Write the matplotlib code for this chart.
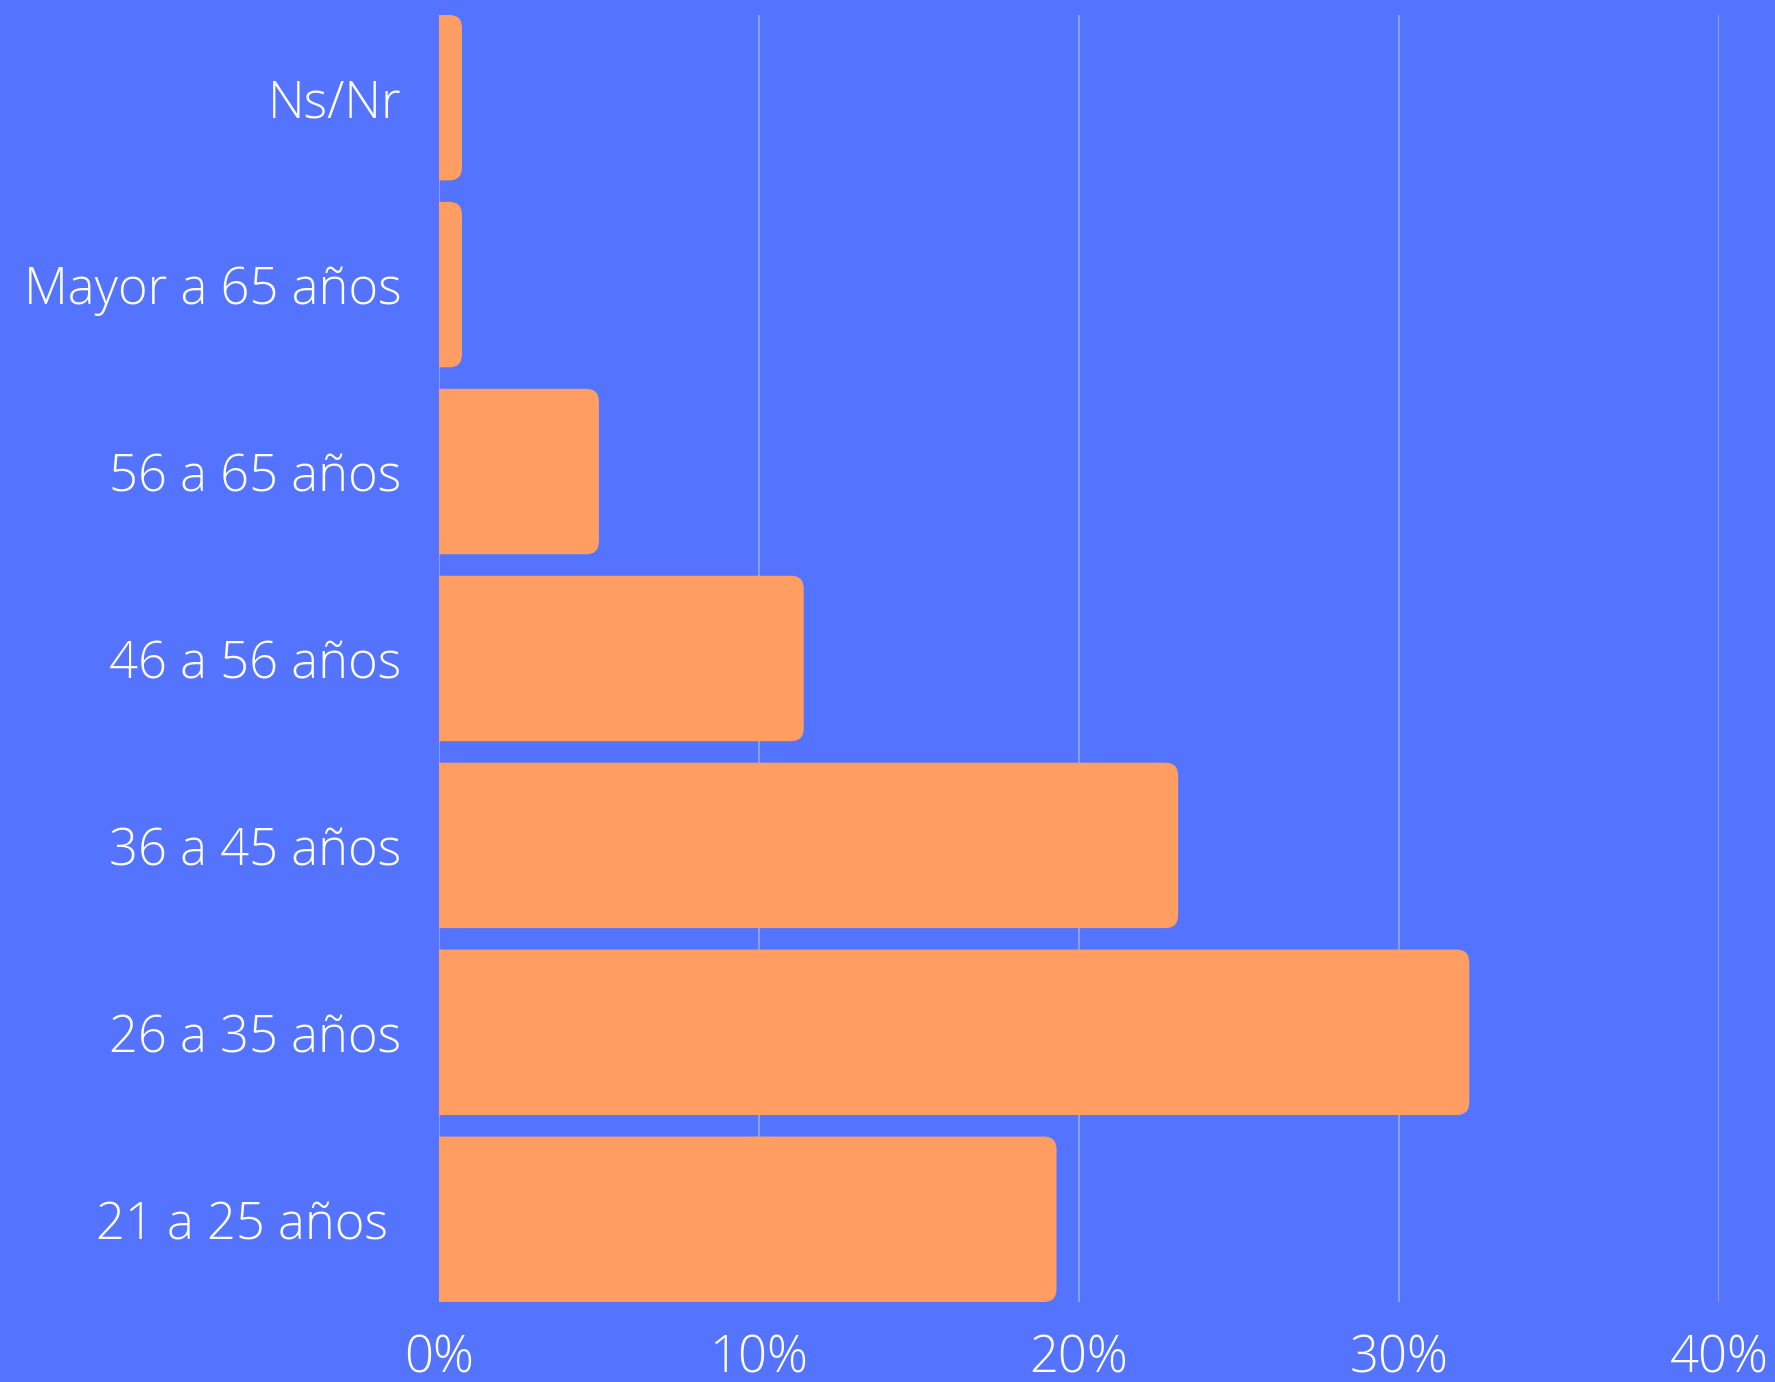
import numpy as np
import matplotlib.pyplot as plt
import matplotlib.patheffects as pe
from matplotlib import font_manager
from matplotlib.patches import FancyBboxPatch

# -------- data --------
groups = ["21 a 25 años ", "26 a 35 años", "36 a 45 años", "46 a 56 años",
          "56 a 65 años", "Mayor a 65 años", "Ns/Nr"]
share = [19.3, 32.2, 23.1, 11.4, 5.0, 0.72, 0.72]
x_ticks = [0, 10, 20, 30, 40]
x_tick_labels = ["0%", "10%", "20%", "30%", "40%"]

bg = "#5474FF"
bar_col = "#FF9D62"
grid_col = "#8CA0FF"

plt.rcParams['font.family'] = ['Open Sans', 'DejaVu Sans']

# lightest normal-width Open Sans face that is installed
info = []
for f in font_manager.fontManager.ttflist:
    if f.name != "Open Sans" or f.style != "normal" or f.stretch != "normal":
        continue
    if "ondensed" in f.fname:
        continue
    w = f.weight if isinstance(f.weight, int) else font_manager.weight_dict.get(f.weight, 400)
    info.append((w, f.fname))
info.sort()
light_found = bool(info) and info[0][0] < 400
if light_found:
    label_font = font_manager.FontProperties(fname=info[0][1], size=36.5)
else:
    label_font = font_manager.FontProperties(family="Open Sans", size=36.5)

fig = plt.figure(figsize=(17.75, 13.82), dpi=100, facecolor=bg)
ax = fig.add_axes([0.2473, 0.0579, 0.7211, 0.9313], facecolor=bg)

bar_h = 0.885
ax.set_xlim(0, 40)
ax.set_ylim(-bar_h / 2, len(groups) - 1 + bar_h / 2)

# grid behind bars
for t in x_ticks:
    ax.axvline(t, color=grid_col, lw=1.4, zorder=1)

# rounded bars: the box starts left of 0 so its left corners get clipped away
ypos = np.arange(len(groups))
bars = ax.barh(ypos, share, height=bar_h, color=bar_col, zorder=2)
r = 0.4       # rounding in x data units (~13 px)
aspect = 0.07 / r
for b in bars:
    x0, y0 = b.get_x(), b.get_y()
    w, h = b.get_width(), b.get_height()
    b.set_visible(False)
    ax.add_patch(FancyBboxPatch((x0 - 2 * r, y0), w + 2 * r, h,
                                boxstyle=f"round,pad=0,rounding_size={r}",
                                mutation_aspect=aspect,
                                fc=bar_col, ec="none", zorder=2))

ax.set_yticks(ypos)
ax.set_yticklabels(groups)
ax.set_xticks(x_ticks)
ax.set_xticklabels(x_tick_labels)
ax.tick_params(axis="both", length=0, colors="white")
ax.tick_params(axis="y", pad=27)
ax.tick_params(axis="x", pad=22)
# thin the regular face down towards a light look
thin = [] if light_found else [pe.Stroke(linewidth=1.1, foreground=bg)]
for lab in ax.get_xticklabels() + ax.get_yticklabels():
    lab.set_fontproperties(label_font)
    lab.set_path_effects(thin)

for s in ax.spines.values():
    s.set_visible(False)

fig.savefig("out.png", dpi=100, facecolor=bg)
